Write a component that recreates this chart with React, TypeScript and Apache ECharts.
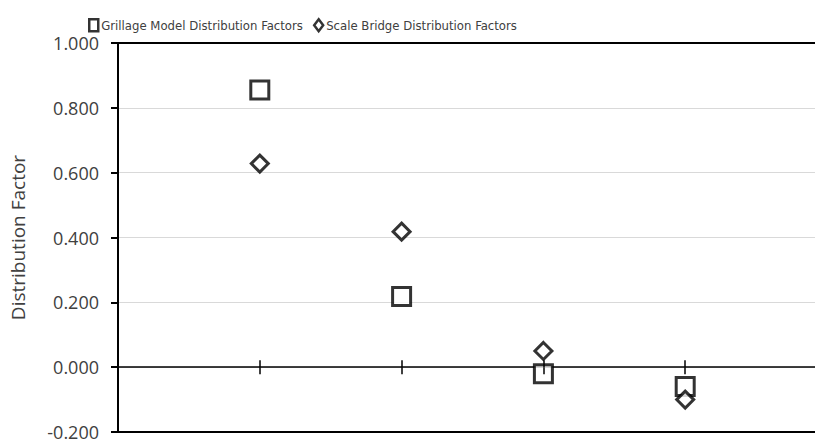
import { useEffect, useRef } from 'react';
import * as echarts from 'echarts';

const xPositions = [1, 2, 3, 4];
const grillage = [0.855, 0.218, -0.02, -0.06];
const scaleBridge = [0.628, 0.418, 0.05, -0.1];
const seriesNames = ['Grillage Model Distribution Factors', 'Scale Bridge Distribution Factors'];
const yMin = -0.2;
const yMax = 1.0;
const yStep = 0.2;
const axisTitle = 'Distribution Factor';

const labelFont = "'Open Sans', 'Noto Sans', sans-serif";
const legendFont = "'Liberation Sans Narrow', 'DejaVu Sans Condensed', 'Open Sans', sans-serif";
const textColor = '#404040';

export default function App() {
  const ref = useRef<HTMLDivElement>(null);
  useEffect(() => {
    if (!ref.current) return;
    const chart = echarts.init(ref.current, undefined, { renderer: 'svg' });
    const baseX = {
      type: 'value' as const,
      min: 0,
      max: 5,
      interval: 1,
      axisLabel: { show: false },
      splitLine: { show: false },
    };
    chart.setOption({
      animation: false,
      backgroundColor: '#ffffff',
      legend: {
        left: 83,
        top: 13,
        itemWidth: 9,
        itemHeight: 12,
        itemGap: 10,
        textStyle: { fontFamily: legendFont, fontSize: 13, color: textColor, padding: [0, 0, 0, -2] },
        itemStyle: { borderWidth: 2.5 },
        data: seriesNames,
      },
      grid: {
        left: 118,
        top: 43,
        bottom: 10,
        right: -12,
        outerBoundsMode: 'none',
        containLabel: false,
        show: false,
      },
      xAxis: [
        {
          ...baseX,
          position: 'bottom',
          axisLine: { show: true, onZero: false, lineStyle: { color: '#000000', width: 2 } },
          axisTick: { show: false },
        },
        {
          ...baseX,
          position: 'top',
          axisLine: { show: true, onZero: false, lineStyle: { color: '#000000', width: 2 } },
          axisTick: { show: false },
        },
        {
          ...baseX,
          position: 'bottom',
          axisLine: { show: true, onZero: true, onZeroAxisIndex: 0, lineStyle: { color: '#000000', width: 1.5 } },
          axisTick: { show: false },
        },
        {
          ...baseX,
          position: 'bottom',
          z: 10,
          axisLine: { show: false, onZero: true, onZeroAxisIndex: 0 },
          axisTick: { show: true, inside: false, length: 7, lineStyle: { color: '#000000', width: 1.5 } },
        },
        {
          ...baseX,
          position: 'bottom',
          z: 10,
          axisLine: { show: false, onZero: true, onZeroAxisIndex: 0 },
          axisTick: { show: true, inside: true, length: 7, lineStyle: { color: '#000000', width: 1.5 } },
        },
      ],
      yAxis: [
        {
          type: 'value',
          min: yMin,
          max: yMax,
          interval: yStep,
          position: 'left',
          name: axisTitle,
          nameLocation: 'middle',
          nameGap: 91,
          nameRotate: 90,
          nameTextStyle: { fontFamily: labelFont, fontSize: 19, color: textColor },
          axisLine: { show: true, onZero: false, lineStyle: { color: '#000000', width: 2 } },
          axisTick: { show: true, inside: false, length: 7, lineStyle: { color: '#000000', width: 2 } },
          axisLabel: {
            fontFamily: labelFont,
            fontSize: 18,
            lineHeight: 14,
            color: textColor,
            margin: 19,
            formatter: (v: number) => v.toFixed(3),
          },
          splitLine: { show: true, lineStyle: { color: '#d9d9d9', width: 1 } },
        },
      ],
      series: [
        {
          name: seriesNames[0],
          type: 'scatter',
          xAxisIndex: 0,
          yAxisIndex: 0,
          symbol: 'rect',
          symbolSize: 18,
          itemStyle: { color: '#ffffff', borderColor: '#000000', borderWidth: 3 },
          data: xPositions.map((x, i) => [x, grillage[i]]),
        },
        {
          name: seriesNames[1],
          type: 'scatter',
          xAxisIndex: 0,
          yAxisIndex: 0,
          symbol: 'diamond',
          symbolSize: 17,
          itemStyle: { color: '#ffffff', borderColor: '#000000', borderWidth: 3 },
          data: xPositions.map((x, i) => [x, scaleBridge[i]]),
        },
      ],
    });
    return () => chart.dispose();
  }, []);
  return (
    <div
      ref={ref}
      style={{ position: 'absolute', left: 0, top: 0, width: 815, height: 442, background: '#fff' }}
    />
  );
}
